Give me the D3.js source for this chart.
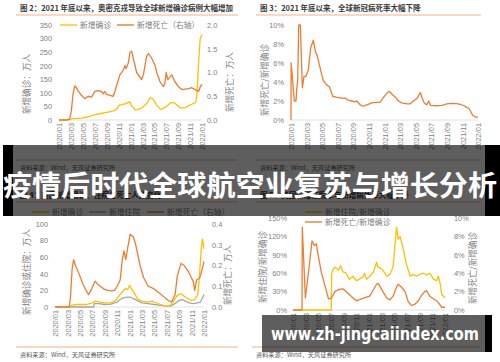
<!DOCTYPE html>
<meta charset="utf-8">
<script src="https://d3js.org/d3.v7.min.js"></script>
<style>
  body { margin: 0; padding: 0; background: #fff; overflow: hidden; }
  svg { display: block; font-family: "Noto Sans CJK SC", "Noto Sans", sans-serif; }
</style>
<svg id="chart" width="500" height="362"></svg>
<script>
// x positions are months since 2020/01
const xTicks = [0, 2, 4, 6, 8, 10, 12, 14, 16, 18, 20, 22, 24];
const xLabels = ["2020/01", "2020/03", "2020/05", "2020/07", "2020/09", "2020/11",
  "2021/01", "2021/03", "2021/05", "2021/07", "2021/09", "2021/11", "2022/01"];

// fig 2: global new cases (万人) and deaths (万人, right axis)
const p1Cases = [[0,0],[1.5,0],[1.9,3],[2.3,5],[3.8,7],[5,12],[6,20],[7,24],[8,28],[9,33],[9.7,40],
  [10.1,55],[10.6,57],[11.2,60],[11.9,67],[12.2,52],[12.75,37],[13.3,38],[13.9,45],[14.7,60],[15.3,82],
  [15.8,78],[16.4,55],[17,40],[17.5,42],[18,50],[18.65,62],[19.2,65],[19.8,55],[20.3,45],[21.2,45],
  [21.7,52],[22.3,58],[22.9,65],[23.05,75],[23.2,110],[23.4,200],[23.7,300],[24,315]];
const p1Deaths = [[0,0],[1.24,0],[1.8,0.02],[2.08,0.2],[2.36,0.55],[2.64,0.72],[2.92,0.68],[3.2,0.62],
  [3.76,0.52],[4.33,0.45],[4.89,0.5],[5.45,0.48],[6.01,0.6],[6.57,0.62],[7.13,0.6],[7.42,0.55],[7.7,0.6],
  [7.98,0.54],[8.54,0.52],[9.1,0.5],[9.38,0.6],[9.66,0.72],[10.22,0.95],[10.79,1.05],[11.07,1.15],
  [11.24,1.08],[11.63,1.2],[11.91,1.42],[12.19,1.45],[12.47,1.3],[13.03,1.0],[13.6,0.9],[13.88,0.85],
  [14.16,0.95],[14.72,1.35],[15.0,1.4],[15.56,1.3],[16.12,1.15],[16.4,1.0],[16.97,0.8],[17.53,0.7],
  [17.81,0.8],[17.98,1.0],[18.26,0.85],[18.93,0.95],[19.49,0.8],[20.06,0.7],[20.62,0.64],[21.18,0.65],
  [21.74,0.66],[22.3,0.68],[22.87,0.64],[23.43,0.6],[23.71,0.7],[24,0.75]];

// fig 3: global deaths / cases (%)
const p2Rate = [[0,0],[0.02,6],[0.43,2],[0.64,2],[0.73,3.2],[0.86,4.2],[0.99,10],[1.2,10],[1.46,3.4],
  [1.67,4.6],[1.93,4.6],[2.23,5.3],[2.53,7.6],[2.87,8.4],[3.13,7.2],[3.39,6.7],[3.64,5.8],[4.16,4.1],
  [4.59,3.7],[4.93,3.5],[5.36,2.5],[5.79,2.4],[6.5,2.3],[6.94,2.3],[7.37,2.1],[7.8,2.0],[8.23,1.9],
  [8.44,2.0],[8.87,1.6],[9.3,1.45],[9.73,1.6],[10.37,1.8],[11.0,1.85],[11.4,1.85],[11.9,2.4],[12.4,2.9],
  [12.65,3.0],[13.1,2.6],[13.4,2.4],[13.8,2.0],[14.2,1.8],[14.9,1.7],[15.3,1.7],[15.7,2.0],[16.2,2.3],
  [16.6,2.9],[16.8,2.4],[17.1,1.8],[17.4,1.6],[17.7,2.0],[17.9,1.55],[18.7,1.5],[19.4,1.55],[20.0,1.7],
  [20.7,1.75],[21.5,1.7],[22.2,1.5],[22.6,1.3],[22.8,1.25],[23.0,1.0],[23.3,0.5],[23.7,0.3],[24,0.3]];

// fig 4: US new cases, hospitalisations (万人) and deaths (万人, right axis)
const p3Cases = [[0,0],[2.4,0],[2.6,2],[3.5,3],[5,3],[6,5],[6.5,7],[7.2,6],[8,5],[9,5],[9.8,8],
  [10.3,13],[10.8,18],[11.3,22],[11.7,21],[12.0,26],[12.3,22],[12.7,18],[13.3,10],[14,7],[15,6],
  [15.6,7],[16,6],[17,3],[18,1],[18.5,2],[19,6],[19.7,14],[20.3,16],[21,12],[21.6,9],[22,8],[22.5,9],
  [23,15],[23.3,40],[23.55,70],[23.75,82],[24,70]];
const p3Hosp = [[0,0],[6.25,0],[6.3,4],[7,4],[8,3],[9,3.5],[10,6],[10.5,9],[11,11],[11.6,12],[12.1,12],
  [12.6,10],[13.2,8],[14,5],[15,4],[16,3],[17,2],[18,1],[18.7,1.5],[19.3,4],[20,8],[20.5,9],[21,7],
  [21.6,5],[22.3,4],[23,5],[23.4,6],[23.7,10],[24,15]];
const p3Deaths = [[0,0],[2.3,0],[2.5,0.05],[2.75,0.18],[3.0,0.228],[3.3,0.2],[3.6,0.18],[4.0,0.15],
  [4.5,0.11],[5.0,0.08],[5.4,0.06],[5.8,0.08],[6.45,0.125],[6.9,0.11],[7.5,0.095],[8.0,0.085],
  [8.5,0.08],[9.0,0.078],[9.6,0.08],[10.0,0.1],[10.5,0.13],[10.8,0.22],[11.1,0.27],[11.4,0.23],
  [11.8,0.3],[12.1,0.35],[12.6,0.34],[13.0,0.3],[13.7,0.2],[14.3,0.14],[15.0,0.1],[15.8,0.09],
  [16.7,0.07],[17.5,0.05],[18.3,0.03],[18.8,0.025],[19.35,0.06],[19.7,0.15],[20.3,0.21],[20.8,0.2],
  [21.5,0.17],[22.0,0.14],[22.3,0.12],[22.5,0.08],[22.8,0.13],[23.3,0.14],[23.7,0.18],[24,0.22]];

// fig 5: US hospitalisations / cases (%, left) and deaths / cases (%, right)
const p4Hosp = [[0,0],[6.05,0],[6.1,60],[6.3,65],[6.6,70],[7.2,65],[7.5,72],[7.9,62],[8.4,60],[8.9,50],
  [9.5,55],[10,48],[10.5,50],[11.1,55],[11.3,60],[11.6,50],[12.1,55],[12.7,62],[13.2,78],[13.4,70],
  [13.97,68],[14.5,60],[14.8,55],[15.3,58],[15.8,70],[16.35,135],[16.6,115],[16.9,120],[17.4,100],
  [17.9,75],[18.5,55],[19.0,58],[19.5,55],[20.0,58],[20.6,60],[21.1,57],[21.6,60],[22.2,50],[22.7,48],
  [22.95,55],[23.2,45],[23.5,25],[24,20]];
const p4Death = [[0,0],[1.42,0],[1.47,9],[1.95,1.3],[2.6,5],[3.0,7.5],[3.4,7.0],[3.7,7.2],[3.96,6],
  [4.5,4],[5.3,2],[5.6,1.2],[6.07,1.3],[6.6,2.0],[7.1,2.2],[7.9,2.3],[8.7,1.8],[9.5,1.3],[10,1.0],
  [10.8,1.2],[11.6,1.4],[12.1,1.5],[12.7,2.2],[13.2,2.8],[13.45,2.9],[13.7,2.6],[14.2,2.0],[14.8,1.3],
  [15.3,1.1],[15.8,1.5],[16.35,2.5],[16.6,2.8],[17.1,2.5],[17.7,2.0],[18.2,0.9],[18.7,0.5],[19.2,0.6],
  [19.8,1.0],[20.3,1.6],[20.8,2.0],[21.1,2.1],[21.6,1.5],[22.2,1.2],[22.7,1.0],[22.95,0.8],[23.5,0.3],[24,0.3]];

const YELLOW = "#FFC000", ORANGE = "#ED7D31", GREY = "#A5A5A5";
const TXT = "#808080", LINE = "#F4B183";
const SOURCE = "资料来源：Wind，天风证券研究所";

const svg = d3.select("#chart");

function header(x1, x2, y, title) {
  svg.append("text").attr("x", x1 + 4).attr("y", y - 4)
    .attr("font-size", 7.5).attr("font-weight", 700).attr("fill", "#3a3a3a").text(title);
  svg.append("line").attr("x1", x1).attr("x2", x2).attr("y1", y).attr("y2", y)
    .attr("stroke", LINE).attr("stroke-width", 1);
}

function footer(x1, x2, y) {
  svg.append("line").attr("x1", x1).attr("x2", x2).attr("y1", y).attr("y2", y)
    .attr("stroke", LINE).attr("stroke-width", 1);
  svg.append("text").attr("x", x1 + 4).attr("y", y + 10)
    .attr("font-size", 6.2).attr("fill", "#555").text(SOURCE);
}

function yTitle(x, y, txt) {
  svg.append("text").attr("transform", `translate(${x},${y}) rotate(-90)`)
    .attr("text-anchor", "middle").attr("dy", "0.35em")
    .attr("font-size", 8.6).attr("fill", TXT).text(txt);
}

function legend(items) {
  items.forEach(it => {
    svg.append("line").attr("x1", it.x).attr("x2", it.x + 17).attr("y1", it.y).attr("y2", it.y)
      .attr("stroke", it.color).attr("stroke-width", 1.4);
    svg.append("text").attr("x", it.x + 20).attr("y", it.y).attr("dy", "0.35em")
      .attr("font-size", 7.8).attr("fill", TXT).text(it.label);
  });
}

function panel(o) {
  const x = d3.scaleLinear().domain([0, 24]).range([o.x0, o.x1]);
  const yl = d3.scaleLinear().domain(o.left.domain).range([o.yb, o.yt]);
  const yr = o.right ? d3.scaleLinear().domain(o.right.domain).range([o.yb, o.yt]) : null;
  const g = svg.append("g");

  const la = g.append("g").attr("transform", `translate(${o.x0 - o.left.pad},0)`)
    .call(d3.axisLeft(yl).tickValues(o.left.ticks).tickFormat(o.left.fmt).tickSize(0).tickPadding(0));
  if (yr) {
    g.append("g").attr("transform", `translate(${o.x1 + o.right.pad},0)`)
      .call(d3.axisRight(yr).tickValues(o.right.ticks).tickFormat(o.right.fmt).tickSize(0).tickPadding(0));
  }
  const xa = g.append("g").attr("transform", `translate(0,${o.yb})`)
    .call(d3.axisBottom(x).tickValues(xTicks).tickFormat((d, i) => xLabels[i]).tickSize(0));
  xa.selectAll("text").attr("transform", "rotate(-90)").attr("x", -3).attr("y", 0)
    .attr("dy", "0.35em").style("text-anchor", "end");
  g.selectAll(".domain").remove();
  g.selectAll(".tick text").attr("fill", TXT).attr("font-size", 7.4)
    .attr("font-family", "'Liberation Sans', Arial, sans-serif");

  g.append("line").attr("x1", o.x0).attr("x2", o.x1).attr("y1", o.yb).attr("y2", o.yb)
    .attr("stroke", "#D9D9D9").attr("stroke-width", 0.8);

  o.series.forEach(s => {
    const ys = s.axis === "right" ? yr : yl;
    g.append("path").datum(s.data)
      .attr("fill", "none").attr("stroke", s.color).attr("stroke-width", 1.3)
      .attr("stroke-linejoin", "round")
      .attr("d", d3.line().x(d => x(d[0])).y(d => ys(d[1])));
  });
}

const pct = d => d + "%";
const f1 = d3.format(".1f");

// ---- figure 2 (top left)
header(16, 238, 15, "图 2：2021 年底以来，奥密克戎导致全球新增确诊病例大幅增加");
panel({
  x0: 59, x1: 202, yb: 120, yt: 25,
  left: { domain: [0, 350], ticks: d3.range(0, 351, 50), fmt: d => d, pad: 7 },
  right: { domain: [0, 2], ticks: [0, 0.5, 1, 1.5, 2], fmt: f1, pad: 5 },
  series: [
    { data: p1Cases, color: YELLOW, axis: "left" },
    { data: p1Deaths, color: ORANGE, axis: "right" }
  ]
});
yTitle(27, 84, "新增确诊：万人");
yTitle(230, 82, "新增死亡：万人");
legend([
  { x: 60, y: 25, color: YELLOW, label: "新增确诊" },
  { x: 117, y: 25, color: ORANGE, label: "新增死亡（右轴）" }
]);
footer(16, 238, 160);

// ---- figure 3 (top right)
header(256, 481, 15, "图 3：2021 年底以来，全球新冠病死率大幅下降");
panel({
  x0: 291, x1: 478, yb: 120, yt: 25,
  left: { domain: [0, 10], ticks: [0, 2, 4, 6, 8, 10], fmt: pct, pad: 7 },
  series: [{ data: p2Rate, color: ORANGE, axis: "left" }]
});
yTitle(265, 80, "新增死亡/新增确诊");
footer(256, 481, 160);

// ---- figure 4 (bottom left)
header(16, 238, 202, "图 4：美国新增确诊、住院与死亡人数变化");
panel({
  x0: 55, x1: 204, yb: 307, yt: 224,
  left: { domain: [0, 100], ticks: d3.range(0, 101, 20), fmt: d => d, pad: 7 },
  right: { domain: [0, 0.4], ticks: [0, 0.1, 0.2, 0.3, 0.4], fmt: f1, pad: 8 },
  series: [
    { data: p3Hosp, color: GREY, axis: "left" },
    { data: p3Cases, color: YELLOW, axis: "left" },
    { data: p3Deaths, color: ORANGE, axis: "right" }
  ]
});
yTitle(27, 272, "新增确诊或住院：万人");
yTitle(228, 275, "新增死亡：万人");
legend([
  { x: 32, y: 212, color: YELLOW, label: "新增确诊" },
  { x: 89, y: 212, color: GREY, label: "新增住院" },
  { x: 147, y: 212, color: ORANGE, label: "新增死亡（右轴）" }
]);
footer(16, 238, 347);

// ---- figure 5 (bottom right)
header(256, 481, 202, "图 5：美国新增住院率与新增病死率大幅下降");
panel({
  x0: 293, x1: 445, yb: 310, yt: 218,
  left: { domain: [0, 150], ticks: d3.range(0, 151, 30), fmt: pct, pad: 6 },
  right: { domain: [0, 10], ticks: [0, 2, 4, 6, 8, 10], fmt: pct, pad: 9 },
  series: [
    { data: p4Hosp, color: YELLOW, axis: "left" },
    { data: p4Death, color: ORANGE, axis: "right" }
  ]
});
yTitle(263, 267, "新增住院/新增确诊");
yTitle(473, 268, "新增死亡/新增确诊");
legend([
  { x: 305, y: 212, color: YELLOW, label: "新增住院/新增确诊" },
  { x: 305, y: 222, color: ORANGE, label: "新增死亡/新增确诊" }
]);
footer(252, 481, 347);

// ---- overlays: banner and watermark
svg.append("rect").attr("x", 3).attr("y", 145).attr("width", 10).attr("height", 71).attr("fill", "#000");
svg.append("rect").attr("x", 13).attr("y", 145).attr("width", 472).attr("height", 71)
  .attr("fill", "#000").attr("fill-opacity", 0.63);
svg.append("rect").attr("x", 485).attr("y", 145).attr("width", 15).attr("height", 71).attr("fill", "#000");
svg.append("text").attr("x", 250).attr("y", 186).attr("dy", "0.36em").attr("text-anchor", "middle")
  .attr("font-size", 28).attr("font-weight", 700).attr("fill", "#fff")
  .attr("textLength", 494).attr("lengthAdjust", "spacingAndGlyphs")
  .text("疫情后时代全球航空业复苏与增长分析");

svg.append("rect").attr("x", 262).attr("y", 315).attr("width", 223).attr("height", 37)
  .attr("fill", "#000").attr("fill-opacity", 0.63);
svg.append("rect").attr("x", 485).attr("y", 315).attr("width", 7).attr("height", 37).attr("fill", "#000");
svg.append("text").attr("x", 375).attr("y", 334).attr("dy", "0.35em").attr("text-anchor", "middle")
  .attr("font-family", "'DejaVu Sans', sans-serif").attr("font-size", 17).attr("font-weight", 700)
  .attr("fill", "#fff").attr("textLength", 208).attr("lengthAdjust", "spacingAndGlyphs")
  .text("www.zh-jingcaiindex.com");
</script>
